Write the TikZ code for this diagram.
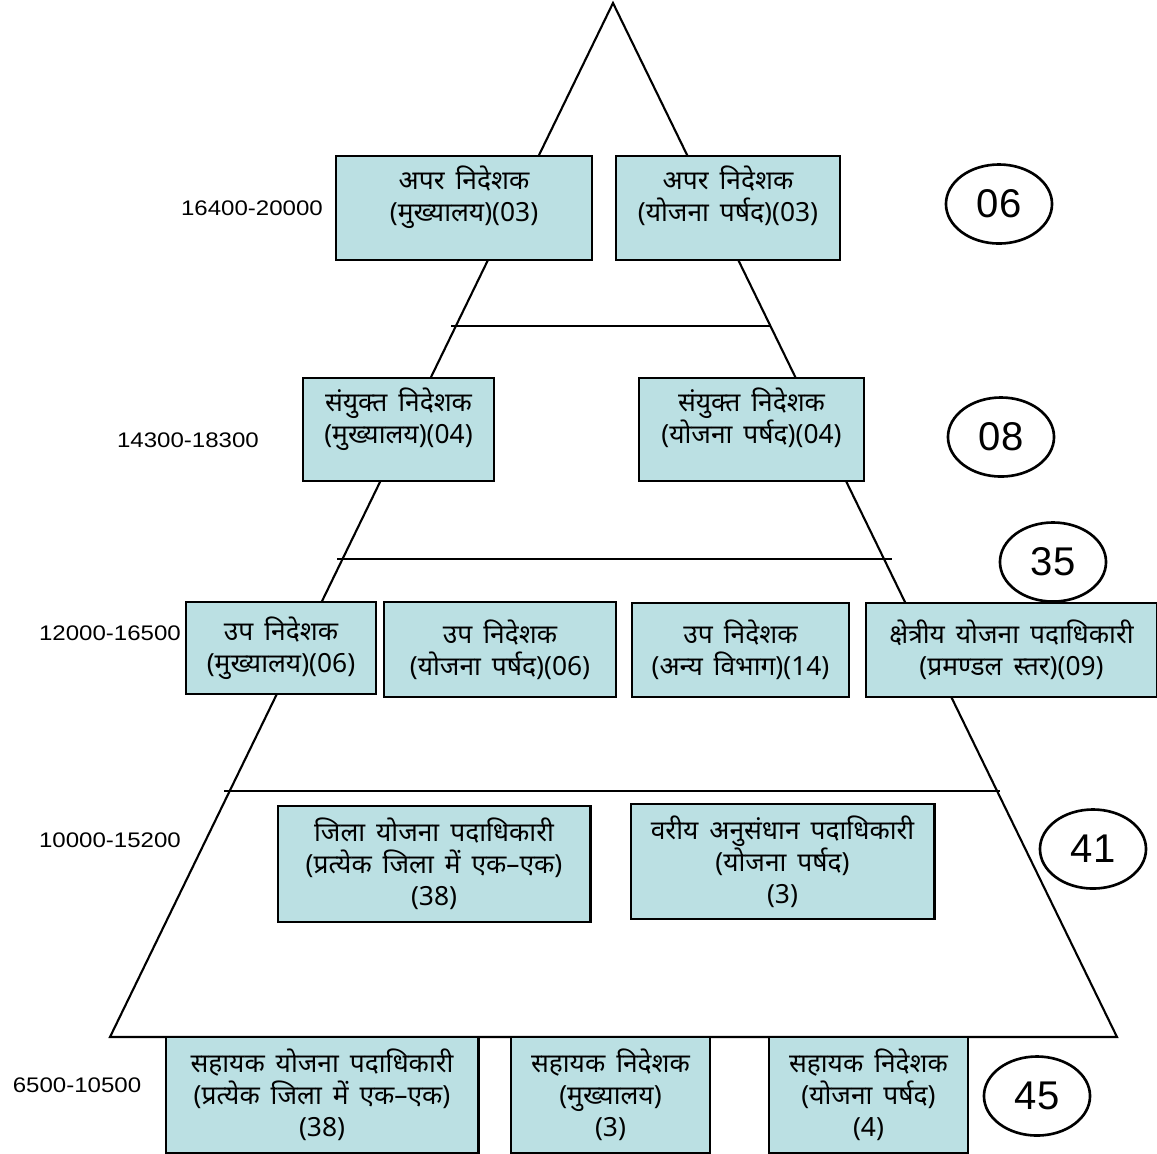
\documentclass[tikz,border=0pt]{standalone}
\usepackage{fontspec}
\usepackage{graphicx}
\setmainfont{Liberation Sans}
\newfontfamily\hindi[Script=Devanagari,WordSpace=1.6]{Noto Sans}
\usetikzlibrary{shapes.geometric}
\definecolor{boxblue}{RGB}{187,224,227}
\tikzstyle{pad} = [rectangle, draw=black, line width=0.8pt, fill=boxblue,
align=center, inner sep=0pt, font=\hindi\fontsize{7.5pt}{9.1pt}\selectfont]
\tikzstyle{twoline} = [text depth=0.28cm]
\tikzstyle{count} = [ellipse, draw=black, line width=0.75pt, minimum width=1.06cm,
minimum height=0.79cm, inner sep=0pt, font=\fontsize{11.4pt}{12pt}\selectfont]
\tikzstyle{pay} = [inner sep=0pt, font=\fontsize{6pt}{7pt}\selectfont]
\newcommand{\wide}[1]{\scalebox{1.14}[1]{#1}}

\begin{document}
\begin{tikzpicture}[x=0.01cm, y=-0.01cm]
	\useasboundingbox (0,0) rectangle (1157,1153);
	% pyramid
	\coordinate (top) at (613,3);
	\coordinate (bl) at (110,1037);
	\coordinate (br) at (1117,1037);
	\draw[line width=0.6pt] (bl) -- (top) -- (br) -- cycle;
	\draw[line width=0.6pt] (451,326) -- (770,326);
	\draw[line width=0.6pt] (337,559) -- (892,559);
	\draw[line width=0.6pt] (224,791) -- (1000,791);
	% boxes
	\node (a1) at (464,208) [pad, twoline, minimum width=2.56cm, minimum height=1.04cm] {अपर निदेशक\\(मुख्यालय)(03)};
	\node (a2) at (728,208) [pad, twoline, minimum width=2.24cm, minimum height=1.04cm] {अपर निदेशक\\(योजना पर्षद)(03)};
	\node (b1) at (398.5,429.5) [pad, twoline, minimum width=1.91cm, minimum height=1.03cm] {संयुक्त निदेशक\\(मुख्यालय)(04)};
	\node (b2) at (751.5,429.5) [pad, twoline, minimum width=2.25cm, minimum height=1.03cm] {संयुक्त निदेशक\\(योजना पर्षद)(04)};
	\node (c1) at (281,648) [pad, minimum width=1.90cm, minimum height=0.92cm] {उप निदेशक\\(मुख्यालय)(06)};
	\node (c2) at (500,649.5) [pad, minimum width=2.32cm, minimum height=0.95cm] {उप निदेशक\\(योजना पर्षद)(06)};
	\node (c3) at (740.5,650) [pad, minimum width=2.17cm, minimum height=0.94cm] {उप निदेशक\\(अन्य विभाग)(14)};
	\node (c4) at (1011.5,650) [pad, minimum width=2.91cm, minimum height=0.94cm] {क्षेत्रीय योजना पदाधिकारी\\(प्रमण्डल स्तर)(09)};
	\node (d1) at (434,864) [pad, minimum width=3.12cm, minimum height=1.16cm] {जिला योजना पदाधिकारी\\(प्रत्येक जिला में एक–एक)\\(38)};
	\node (d2) at (782.5,861.5) [pad, minimum width=3.03cm, minimum height=1.15cm] {वरीय अनुसंधान पदाधिकारी\\(योजना पर्षद)\\(3)};
	\node (e1) at (322,1095) [pad, minimum width=3.12cm, minimum height=1.16cm] {सहायक योजना पदाधिकारी\\(प्रत्येक जिला में एक–एक)\\(38)};
	\node (e2) at (610.5,1095) [pad, minimum width=1.99cm, minimum height=1.16cm] {सहायक निदेशक\\(मुख्यालय)\\(3)};
	\node (e3) at (868.5,1095) [pad, minimum width=1.99cm, minimum height=1.16cm] {सहायक निदेशक\\(योजना पर्षद)\\(4)};
	% totals
	\node (n1) at (999,204) [count] {06};
	\node (n2) at (1001,437) [count] {08};
	\node (n3) at (1053,562) [count] {35};
	\node (n4) at (1093,849) [count] {41};
	\node (n5) at (1037,1096) [count] {45};
	% pay scales
	\node (p1) at (252,208) [pay] {\wide{16400-20000}};
	\node (p2) at (188,440) [pay] {\wide{14300-18300}};
	\node (p3) at (110,633) [pay] {\wide{12000-16500}};
	\node (p4) at (110,840) [pay] {\wide{10000-15200}};
	\node (p5) at (77,1085) [pay] {\wide{6500-10500}};
\end{tikzpicture}
\end{document}
